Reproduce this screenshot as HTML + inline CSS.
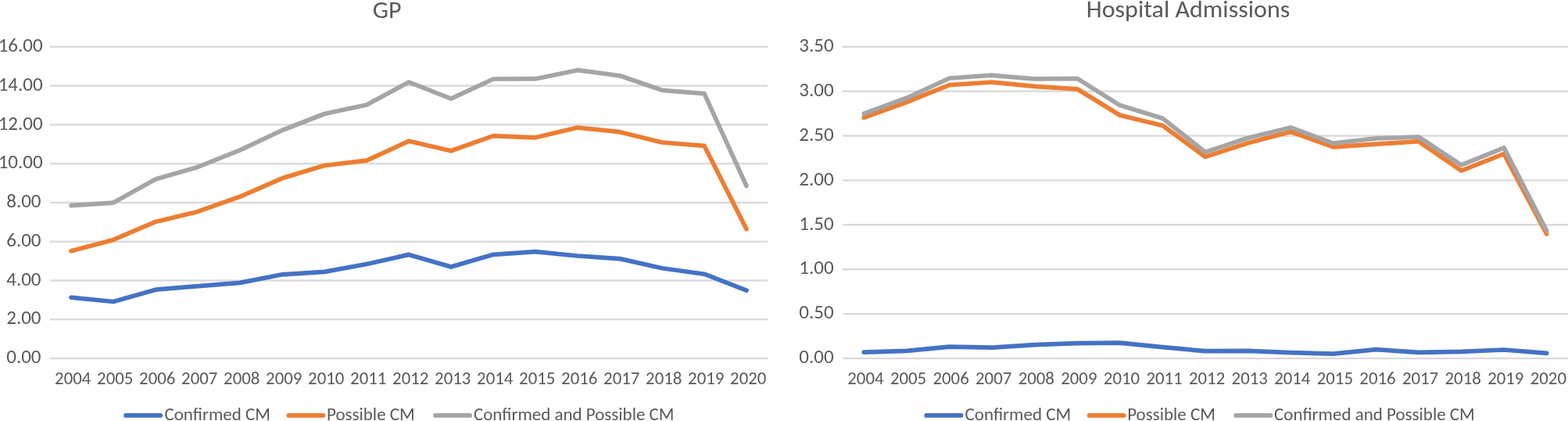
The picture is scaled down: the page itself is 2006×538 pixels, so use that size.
<!DOCTYPE html><html><head><meta charset="utf-8"><title>GP and Hospital Admissions</title>
<style>html,body{margin:0;padding:0;background:#fff;overflow:hidden}svg{display:block}text{font-family:Carlito, Calibri, 'Liberation Sans', sans-serif;fill:#595959}</style></head><body>
<svg width="2006" height="538" viewBox="0 0 2006 538">
<rect width="2006" height="538" fill="#fff"/>
<rect x="64" y="58.65" width="918" height="2.3" fill="#D9D9D9"/>
<rect x="64" y="108.42" width="918" height="2.3" fill="#D9D9D9"/>
<rect x="64" y="158.20" width="918" height="2.3" fill="#D9D9D9"/>
<rect x="64" y="207.97" width="918" height="2.3" fill="#D9D9D9"/>
<rect x="64" y="257.75" width="918" height="2.3" fill="#D9D9D9"/>
<rect x="64" y="307.53" width="918" height="2.3" fill="#D9D9D9"/>
<rect x="64" y="357.30" width="918" height="2.3" fill="#D9D9D9"/>
<rect x="64" y="407.08" width="918" height="2.3" fill="#D9D9D9"/>
<rect x="64" y="456.85" width="918" height="2.3" fill="#D9D9D9"/>
<rect x="1078" y="58.65" width="928" height="2.3" fill="#D9D9D9"/>
<rect x="1078" y="115.54" width="928" height="2.3" fill="#D9D9D9"/>
<rect x="1078" y="172.42" width="928" height="2.3" fill="#D9D9D9"/>
<rect x="1078" y="229.31" width="928" height="2.3" fill="#D9D9D9"/>
<rect x="1078" y="286.19" width="928" height="2.3" fill="#D9D9D9"/>
<rect x="1078" y="343.08" width="928" height="2.3" fill="#D9D9D9"/>
<rect x="1078" y="399.96" width="928" height="2.3" fill="#D9D9D9"/>
<rect x="1078" y="456.85" width="928" height="2.3" fill="#D9D9D9"/>
<text x="54.65" y="66.00" font-size="25" text-anchor="end" textLength="57.00" lengthAdjust="spacingAndGlyphs">16.00</text>
<text x="54.65" y="115.77" font-size="25" text-anchor="end" textLength="57.00" lengthAdjust="spacingAndGlyphs">14.00</text>
<text x="54.65" y="165.55" font-size="25" text-anchor="end" textLength="57.00" lengthAdjust="spacingAndGlyphs">12.00</text>
<text x="54.65" y="215.32" font-size="25" text-anchor="end" textLength="57.00" lengthAdjust="spacingAndGlyphs">10.00</text>
<text x="52.55" y="265.10" font-size="25" text-anchor="end" textLength="44.33" lengthAdjust="spacingAndGlyphs">8.00</text>
<text x="52.55" y="314.88" font-size="25" text-anchor="end" textLength="44.33" lengthAdjust="spacingAndGlyphs">6.00</text>
<text x="52.55" y="364.65" font-size="25" text-anchor="end" textLength="44.33" lengthAdjust="spacingAndGlyphs">4.00</text>
<text x="52.55" y="414.43" font-size="25" text-anchor="end" textLength="44.33" lengthAdjust="spacingAndGlyphs">2.00</text>
<text x="52.55" y="464.20" font-size="25" text-anchor="end" textLength="44.33" lengthAdjust="spacingAndGlyphs">0.00</text>
<text x="1066.60" y="66.00" font-size="25" text-anchor="end" textLength="44.33" lengthAdjust="spacingAndGlyphs">3.50</text>
<text x="1066.60" y="122.89" font-size="25" text-anchor="end" textLength="44.33" lengthAdjust="spacingAndGlyphs">3.00</text>
<text x="1066.60" y="179.77" font-size="25" text-anchor="end" textLength="44.33" lengthAdjust="spacingAndGlyphs">2.50</text>
<text x="1066.60" y="236.66" font-size="25" text-anchor="end" textLength="44.33" lengthAdjust="spacingAndGlyphs">2.00</text>
<text x="1066.60" y="293.54" font-size="25" text-anchor="end" textLength="44.33" lengthAdjust="spacingAndGlyphs">1.50</text>
<text x="1066.60" y="350.43" font-size="25" text-anchor="end" textLength="44.33" lengthAdjust="spacingAndGlyphs">1.00</text>
<text x="1066.60" y="407.31" font-size="25" text-anchor="end" textLength="44.33" lengthAdjust="spacingAndGlyphs">0.50</text>
<text x="1066.60" y="464.20" font-size="25" text-anchor="end" textLength="44.33" lengthAdjust="spacingAndGlyphs">0.00</text>
<text x="93.20" y="490.8" font-size="22.8" text-anchor="middle" textLength="46.22" lengthAdjust="spacingAndGlyphs">2004</text>
<text x="1107.40" y="490.8" font-size="22.8" text-anchor="middle" textLength="46.22" lengthAdjust="spacingAndGlyphs">2004</text>
<text x="147.20" y="490.8" font-size="22.8" text-anchor="middle" textLength="46.22" lengthAdjust="spacingAndGlyphs">2005</text>
<text x="1161.99" y="490.8" font-size="22.8" text-anchor="middle" textLength="46.22" lengthAdjust="spacingAndGlyphs">2005</text>
<text x="201.20" y="490.8" font-size="22.8" text-anchor="middle" textLength="46.22" lengthAdjust="spacingAndGlyphs">2006</text>
<text x="1216.58" y="490.8" font-size="22.8" text-anchor="middle" textLength="46.22" lengthAdjust="spacingAndGlyphs">2006</text>
<text x="255.20" y="490.8" font-size="22.8" text-anchor="middle" textLength="46.22" lengthAdjust="spacingAndGlyphs">2007</text>
<text x="1271.17" y="490.8" font-size="22.8" text-anchor="middle" textLength="46.22" lengthAdjust="spacingAndGlyphs">2007</text>
<text x="309.20" y="490.8" font-size="22.8" text-anchor="middle" textLength="46.22" lengthAdjust="spacingAndGlyphs">2008</text>
<text x="1325.76" y="490.8" font-size="22.8" text-anchor="middle" textLength="46.22" lengthAdjust="spacingAndGlyphs">2008</text>
<text x="363.20" y="490.8" font-size="22.8" text-anchor="middle" textLength="46.22" lengthAdjust="spacingAndGlyphs">2009</text>
<text x="1380.35" y="490.8" font-size="22.8" text-anchor="middle" textLength="46.22" lengthAdjust="spacingAndGlyphs">2009</text>
<text x="417.20" y="490.8" font-size="22.8" text-anchor="middle" textLength="46.22" lengthAdjust="spacingAndGlyphs">2010</text>
<text x="1434.94" y="490.8" font-size="22.8" text-anchor="middle" textLength="46.22" lengthAdjust="spacingAndGlyphs">2010</text>
<text x="471.20" y="490.8" font-size="22.8" text-anchor="middle" textLength="46.22" lengthAdjust="spacingAndGlyphs">2011</text>
<text x="1489.53" y="490.8" font-size="22.8" text-anchor="middle" textLength="46.22" lengthAdjust="spacingAndGlyphs">2011</text>
<text x="525.20" y="490.8" font-size="22.8" text-anchor="middle" textLength="46.22" lengthAdjust="spacingAndGlyphs">2012</text>
<text x="1544.12" y="490.8" font-size="22.8" text-anchor="middle" textLength="46.22" lengthAdjust="spacingAndGlyphs">2012</text>
<text x="579.20" y="490.8" font-size="22.8" text-anchor="middle" textLength="46.22" lengthAdjust="spacingAndGlyphs">2013</text>
<text x="1598.71" y="490.8" font-size="22.8" text-anchor="middle" textLength="46.22" lengthAdjust="spacingAndGlyphs">2013</text>
<text x="633.20" y="490.8" font-size="22.8" text-anchor="middle" textLength="46.22" lengthAdjust="spacingAndGlyphs">2014</text>
<text x="1653.30" y="490.8" font-size="22.8" text-anchor="middle" textLength="46.22" lengthAdjust="spacingAndGlyphs">2014</text>
<text x="687.20" y="490.8" font-size="22.8" text-anchor="middle" textLength="46.22" lengthAdjust="spacingAndGlyphs">2015</text>
<text x="1707.89" y="490.8" font-size="22.8" text-anchor="middle" textLength="46.22" lengthAdjust="spacingAndGlyphs">2015</text>
<text x="741.20" y="490.8" font-size="22.8" text-anchor="middle" textLength="46.22" lengthAdjust="spacingAndGlyphs">2016</text>
<text x="1762.48" y="490.8" font-size="22.8" text-anchor="middle" textLength="46.22" lengthAdjust="spacingAndGlyphs">2016</text>
<text x="795.20" y="490.8" font-size="22.8" text-anchor="middle" textLength="46.22" lengthAdjust="spacingAndGlyphs">2017</text>
<text x="1817.07" y="490.8" font-size="22.8" text-anchor="middle" textLength="46.22" lengthAdjust="spacingAndGlyphs">2017</text>
<text x="849.20" y="490.8" font-size="22.8" text-anchor="middle" textLength="46.22" lengthAdjust="spacingAndGlyphs">2018</text>
<text x="1871.66" y="490.8" font-size="22.8" text-anchor="middle" textLength="46.22" lengthAdjust="spacingAndGlyphs">2018</text>
<text x="903.20" y="490.8" font-size="22.8" text-anchor="middle" textLength="46.22" lengthAdjust="spacingAndGlyphs">2019</text>
<text x="1926.25" y="490.8" font-size="22.8" text-anchor="middle" textLength="46.22" lengthAdjust="spacingAndGlyphs">2019</text>
<text x="957.20" y="490.8" font-size="22.8" text-anchor="middle" textLength="46.22" lengthAdjust="spacingAndGlyphs">2020</text>
<text x="1980.84" y="490.8" font-size="22.8" text-anchor="middle" textLength="46.22" lengthAdjust="spacingAndGlyphs">2020</text>
<polyline points="91.00,380.20 145.00,385.50 199.00,370.20 253.00,365.60 307.00,361.40 361.00,350.80 415.00,347.40 469.00,337.50 523.00,325.40 577.00,341.10 631.00,325.30 685.00,321.60 739.00,327.00 793.00,330.60 847.00,342.80 901.00,350.20 955.00,371.20" fill="none" stroke="#4472C4" stroke-width="5.7" stroke-linejoin="round" stroke-linecap="round"/>
<polyline points="91.00,320.70 145.00,306.40 199.00,283.40 253.00,270.40 307.00,251.30 361.00,227.80 415.00,211.50 469.00,205.20 523.00,180.30 577.00,192.80 631.00,173.60 685.00,175.80 739.00,163.10 793.00,168.70 847.00,182.00 901.00,186.30 955.00,292.70" fill="none" stroke="#ED7D31" stroke-width="5.7" stroke-linejoin="round" stroke-linecap="round"/>
<polyline points="91.00,262.60 145.00,259.10 199.00,228.90 253.00,213.40 307.00,191.90 361.00,166.50 415.00,145.50 469.00,134.00 523.00,104.90 577.00,126.10 631.00,101.00 685.00,100.70 739.00,89.70 793.00,96.80 847.00,115.30 901.00,119.60 955.00,237.60" fill="none" stroke="#A5A5A5" stroke-width="5.7" stroke-linejoin="round" stroke-linecap="round"/>
<polyline points="1105.30,450.20 1159.88,448.40 1214.47,443.20 1269.05,444.20 1323.64,440.60 1378.22,438.70 1432.81,438.20 1487.39,443.60 1541.98,448.70 1596.57,448.40 1651.15,450.60 1705.74,452.20 1760.32,446.60 1814.90,450.40 1869.49,449.40 1924.07,447.00 1978.66,451.40" fill="none" stroke="#4472C4" stroke-width="5.7" stroke-linejoin="round" stroke-linecap="round"/>
<polyline points="1105.30,150.20 1159.88,130.60 1214.47,108.60 1269.05,105.00 1323.64,110.40 1378.22,113.80 1432.81,147.30 1487.39,160.40 1541.98,200.40 1596.57,182.80 1651.15,168.40 1705.74,187.80 1760.32,184.20 1814.90,180.70 1869.49,218.20 1924.07,196.60 1978.66,299.00" fill="none" stroke="#ED7D31" stroke-width="5.7" stroke-linejoin="round" stroke-linecap="round"/>
<polyline points="1105.30,145.20 1159.88,125.30 1214.47,100.00 1269.05,96.20 1323.64,100.80 1378.22,100.40 1432.81,134.60 1487.39,151.20 1541.98,194.40 1596.57,176.30 1651.15,162.90 1705.74,183.20 1760.32,176.90 1814.90,175.00 1869.49,210.90 1924.07,188.80 1978.66,294.80" fill="none" stroke="#A5A5A5" stroke-width="5.7" stroke-linejoin="round" stroke-linecap="round"/>
<text transform="translate(495.05 22.6) scale(1 0.96)" font-size="32" text-anchor="middle" textLength="36.71" lengthAdjust="spacingAndGlyphs">GP</text>
<text transform="translate(1520 22.3) scale(1 0.96)" font-size="32" text-anchor="middle" textLength="260.48" lengthAdjust="spacingAndGlyphs">Hospital Admissions</text>
<line x1="161.00" y1="530.90" x2="205.30" y2="530.90" stroke="#4472C4" stroke-width="5.7" stroke-linecap="round"/>
<line x1="369.40" y1="530.90" x2="413.50" y2="530.90" stroke="#ED7D31" stroke-width="5.7" stroke-linecap="round"/>
<line x1="557.00" y1="530.90" x2="601.20" y2="530.90" stroke="#A5A5A5" stroke-width="5.7" stroke-linecap="round"/>
<text transform="translate(210.40 536.5) scale(1 0.967)" font-size="23" textLength="135.48" lengthAdjust="spacingAndGlyphs">Confirmed CM</text>
<text transform="translate(418.00 536.5) scale(1 0.967)" font-size="23" textLength="112.69" lengthAdjust="spacingAndGlyphs">Possible CM</text>
<text transform="translate(605.90 536.5) scale(1 0.967)" font-size="23" textLength="256.62" lengthAdjust="spacingAndGlyphs">Confirmed and Possible CM</text>
<line x1="1185.20" y1="530.90" x2="1229.50" y2="530.90" stroke="#4472C4" stroke-width="5.7" stroke-linecap="round"/>
<line x1="1393.60" y1="530.90" x2="1437.70" y2="530.90" stroke="#ED7D31" stroke-width="5.7" stroke-linecap="round"/>
<line x1="1581.20" y1="530.90" x2="1625.40" y2="530.90" stroke="#A5A5A5" stroke-width="5.7" stroke-linecap="round"/>
<text transform="translate(1234.60 536.5) scale(1 0.967)" font-size="23" textLength="135.48" lengthAdjust="spacingAndGlyphs">Confirmed CM</text>
<text transform="translate(1442.20 536.5) scale(1 0.967)" font-size="23" textLength="112.69" lengthAdjust="spacingAndGlyphs">Possible CM</text>
<text transform="translate(1630.10 536.5) scale(1 0.967)" font-size="23" textLength="256.62" lengthAdjust="spacingAndGlyphs">Confirmed and Possible CM</text>
</svg></body></html>
